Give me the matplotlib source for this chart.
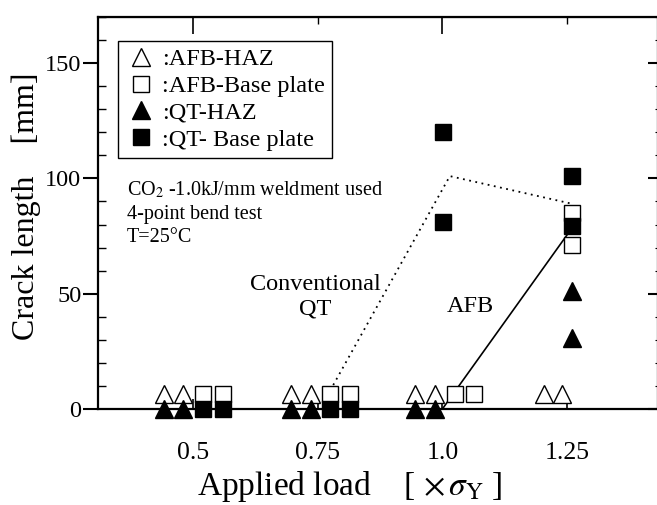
import matplotlib
matplotlib.use("Agg")
import matplotlib.pyplot as plt
from matplotlib.lines import Line2D
from matplotlib.ticker import MultipleLocator

plt.rcParams['font.family'] = ['Liberation Serif', 'DejaVu Serif']
plt.rcParams['mathtext.fontset'] = 'stix'

# open markers are drawn a little above zero so they sit over the filled ones
afb_haz_x = [0.442, 0.480, 0.697, 0.737, 0.945, 0.985, 1.204, 1.240]
afb_haz_y = [6.5, 6.5, 6.5, 6.5, 6.5, 6.5, 6.5, 6.5]

afb_base_x = [0.520, 0.560, 0.775, 0.815, 1.025, 1.063, 1.260, 1.260]
afb_base_y = [6.5, 6.5, 6.5, 6.5, 6.5, 6.5, 85, 71]

qt_haz_x = [0.442, 0.480, 0.697, 0.737, 0.945, 0.985, 1.260, 1.260]
qt_haz_y = [0, 0, 0, 0, 0, 0, 51, 31]

qt_base_x = [0.520, 0.560, 0.775, 0.815, 1.001, 1.001, 1.260, 1.260]
qt_base_y = [0, 0, 0, 0, 120, 81, 101, 79.5]

# trend lines
qt_trend_x = [0.775, 1.015, 1.260]
qt_trend_y = [8, 101, 89]
afb_trend_x = [1.0, 1.255]
afb_trend_y = [0, 77]

load_ticks = [0.5, 0.75, 1.0, 1.25]
load_labels = ['0.5', '0.75', '1.0', '1.25']

fig = plt.figure(figsize=(6.57, 5.05), dpi=100)
ax = fig.add_axes([98/657, 96/505, 560/657, 392/505])

ax.plot(qt_trend_x, qt_trend_y, color='black', ls=(0, (1, 2.5)), lw=1.3, zorder=2)
ax.plot(afb_trend_x, afb_trend_y, color='black', ls='-', lw=1.2, zorder=2)

ax.plot(afb_haz_x, afb_haz_y, ls='none', marker='^', ms=12.5, mfc='white',
        mec='black', mew=1.0, clip_on=False, zorder=3)
ax.plot(afb_base_x, afb_base_y, ls='none', marker='s', ms=11.5, mfc='white',
        mec='black', mew=1.0, clip_on=False, zorder=3)
ax.plot(qt_haz_x, qt_haz_y, ls='none', marker='^', ms=12.5, mfc='black',
        mec='black', clip_on=False, zorder=4)
ax.plot(qt_base_x, qt_base_y, ls='none', marker='s', ms=11.5, mfc='black',
        mec='black', clip_on=False, zorder=4)

ax.set_xlim(0.3095, 1.4324)
ax.set_ylim(0, 170)

for s in ax.spines.values():
    s.set_linewidth(1.6)

ax.set_xticks(load_ticks)
ax.set_xticklabels(load_labels)
ax.tick_params(axis='x', direction='in', length=7, width=1.2, pad=24, labelsize=18.5)
ax.yaxis.set_major_locator(MultipleLocator(50))
ax.yaxis.set_minor_locator(MultipleLocator(10))
ax.tick_params(axis='y', which='major', direction='out', length=11, width=1.5,
               pad=1, labelsize=17.5)
ax.tick_params(axis='y', which='minor', direction='in', length=6, width=1.0)

# right side ticks point inward
sec_y = ax.secondary_yaxis('right')
sec_y.yaxis.set_major_locator(MultipleLocator(50))
sec_y.yaxis.set_minor_locator(MultipleLocator(10))
sec_y.tick_params(which='major', direction='in', length=7, width=1.5, labelright=False)
sec_y.tick_params(which='minor', direction='in', length=2, width=0.8)

# top ticks: long at 0.5 and 1.0, short at 0.75 and 1.25
sec_x = ax.secondary_xaxis('top')
sec_x.set_xticks([0.5, 1.0])
sec_x.set_xticks([0.75, 1.25], minor=True)
sec_x.tick_params(which='major', direction='in', length=12, width=1.2, labeltop=False)
sec_x.tick_params(which='minor', direction='in', length=5, width=1.0)

handles = [
    Line2D([], [], ls='none', marker='^', ms=12.5, mfc='white', mec='black', mew=1.0),
    Line2D([], [], ls='none', marker='s', ms=11.5, mfc='white', mec='black', mew=1.0),
    Line2D([], [], ls='none', marker='^', ms=12.5, mfc='black', mec='black'),
    Line2D([], [], ls='none', marker='s', ms=11.5, mfc='black', mec='black'),
]
labels = [':AFB-HAZ', ':AFB-Base plate', ':QT-HAZ', ':QT- Base plate']
leg = ax.legend(handles, labels, loc='upper left', bbox_to_anchor=(0.036, 0.939),
                borderaxespad=0, fancybox=False, edgecolor='black', framealpha=1,
                fontsize=17.5, handlelength=1.3, handletextpad=0.2,
                labelspacing=0.2, borderpad=0.3)
leg.get_frame().set_linewidth(1.0)

ax.text(0.052, 0.585, 'CO$_2$ -1.0kJ/mm weldment used\n4-point bend test\nT=25°C',
        transform=ax.transAxes, fontsize=14.5, va='top', ha='left', linespacing=1.3)
ax.text(0.388, 0.286, 'Conventional\nQT', transform=ax.transAxes, fontsize=17.5,
        ha='center', va='center', linespacing=1.2)
ax.text(0.665, 0.262, 'AFB', transform=ax.transAxes, fontsize=17.5,
        ha='center', va='center')

fig.text(26/657, 1 - 206/505, 'Crack length    [mm]', rotation=90,
         ha='center', va='center', fontsize=23)
fig.text(350/657, 1 - 487/505, r'Applied load    [ $\times\,\sigma_{\rm Y}$ ]',
         ha='center', va='center', fontsize=24)

fig.savefig('out.png', dpi=100)
